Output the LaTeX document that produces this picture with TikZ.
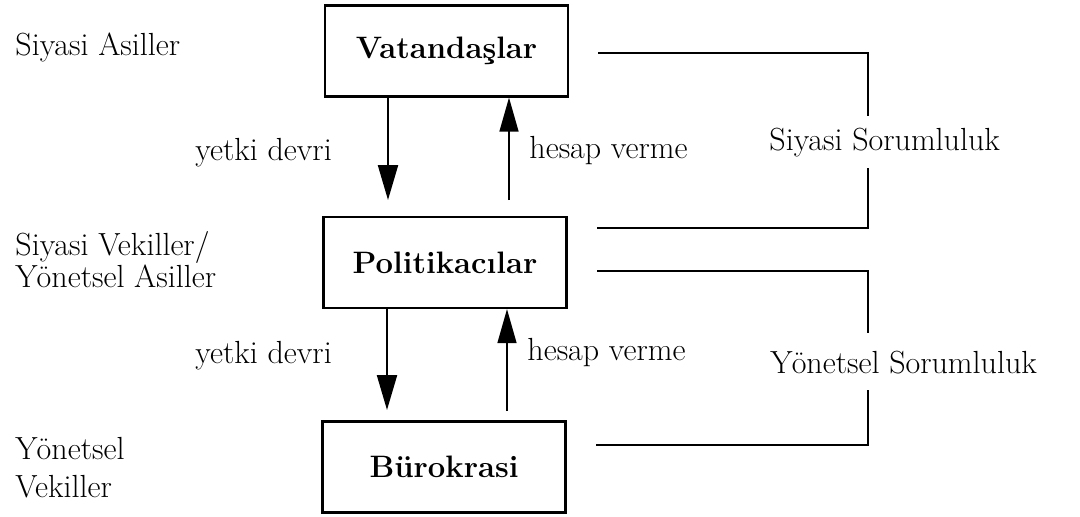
\documentclass[tikz,border=0pt]{standalone}
\usepackage{fontspec}
\usetikzlibrary{arrows.meta}
\begin{document}
\begin{tikzpicture}[x=0.5pt,y=-0.5pt,
  box/.style={draw, line width=1.1pt, minimum width=121.5pt, minimum height=45.5pt, inner sep=0pt,
    font=\fontsize{15.5}{18}\selectfont\bfseries},
  lbl/.style={font=\fontsize{16}{19}\selectfont, inner sep=0pt, anchor=base west},
  downarrow/.style={line width=1.1pt, -{Triangle[length=17.5pt,width=10pt]}},
  uparrow/.style={line width=0.7pt, -{Triangle[length=17pt,width=9.5pt]}},
  bracketline/.style={line width=0.85pt}]
\useasboundingbox (0,0) rectangle (1080,516);

% boxes
\node[box] (v) at (446.5,51) {Vatandaşlar};
\node[box] (p) at (445,262.5) {Politikacılar};
\node[box] (b) at (444,467) {Bürokrasi};

% arrows
\coordinate (d1) at (388,200);
\coordinate (u1) at (509,200);
\coordinate (d2) at (387,410);
\coordinate (u2) at (507,411);
\draw[downarrow] (v.south -| d1) -- (d1);
\draw[uparrow] (u1) -- (v.south -| u1);
\draw[downarrow] (p.south -| d2) -- (d2);
\draw[uparrow] (u2) -- (p.south -| u2);

% left labels
\node[lbl] (sa) at (15,55) {Siyasi Asiller};
\node[lbl] (sv) at (15,255) {Siyasi Vekiller/};
\node[lbl] (ya) at (15,287) {Yönetsel Asiller};
\node[lbl] (yv1) at (15,459) {Yönetsel};
\node[lbl] (yv2) at (15,497) {Vekiller};

% arrow labels
\node[lbl] (yd1) at (195,160) {yetki devri};
\node[lbl] (hv1) at (529,158) {hesap verme};
\node[lbl] (yd2) at (195,363) {yetki devri};
\node[lbl] (hv2) at (527,360) {hesap verme};

% responsibility labels
\node[lbl] (ss) at (769,150) {Siyasi Sorumluluk};
\node[lbl] (ys) at (770,373) {Yönetsel Sorumluluk};

% brackets
\coordinate (s1) at (598,53);
\coordinate (s2) at (868,53);
\coordinate (s3) at (868,116);
\coordinate (s4) at (868,168);
\coordinate (s5) at (868,228);
\coordinate (s6) at (597,228);
\draw[bracketline] (s1) -- (s2) -- (s3);
\draw[bracketline] (s4) -- (s5) -- (s6);

\coordinate (t1) at (597,271);
\coordinate (t2) at (868,271);
\coordinate (t3) at (868,333);
\coordinate (t4) at (868,390);
\coordinate (t5) at (868,445);
\coordinate (t6) at (596,445);
\draw[bracketline] (t1) -- (t2) -- (t3);
\draw[bracketline] (t4) -- (t5) -- (t6);
\end{tikzpicture}
\end{document}
